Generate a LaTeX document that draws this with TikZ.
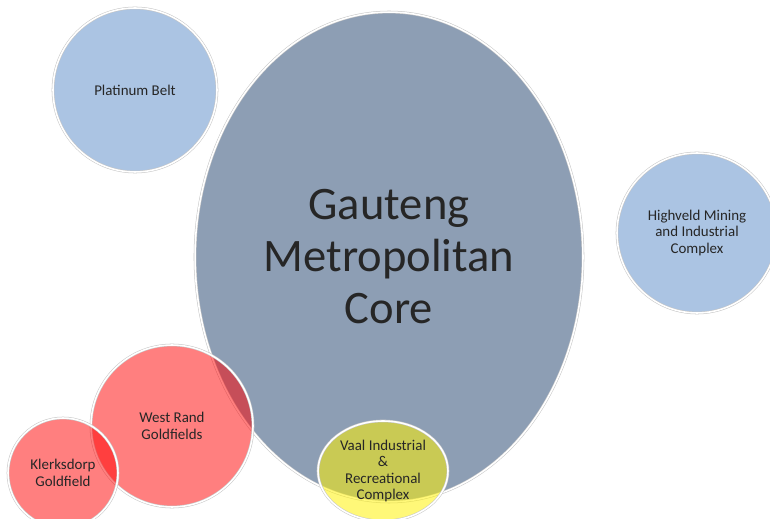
\documentclass[tikz,border=0pt]{standalone}
\usepackage{fontspec}
\setmainfont{Carlito}
\usetikzlibrary{shapes.geometric}
\definecolor{coregrey}{HTML}{8D9EB4}
\definecolor{zoneblue}{HTML}{ABC4E3}
\begin{document}
\begin{tikzpicture}[x=0.02cm, y=-0.02cm,
  every node/.style={ellipse,inner sep=0pt,align=center,text=black!85},
  rim/.style={draw=gray!45,line width=.3pt,double=white,double distance=.9pt},
  small/.style={font=\fontsize{8.5}{9.4}\selectfont},
  blue zone/.style={rim,small,fill=zoneblue},
  gold zone/.style={rim,small,fill=red,fill opacity=.5,text opacity=1},
  vaal zone/.style={rim,small,fill=yellow,fill opacity=.53,text opacity=1}]
  \useasboundingbox (0,0) rectangle (770,519);
  \clip (0,0) rectangle (770,519);
  \node [rim,fill=coregrey,minimum width=7.76cm,minimum height=9.8cm,
    font=\fontsize{26.5}{29.6}\selectfont] (1) at (389,257) {Gauteng\\Metropolitan\\Core};
  \node [blue zone,minimum width=3.28cm,minimum height=3.28cm] (2) at (135,90) {Platinum Belt};
  \node [blue zone,minimum width=3.2cm,minimum height=3.2cm] (3) at (697,233) {Highveld Mining\\and Industrial\\Complex};
  \node [gold zone,minimum width=3.24cm,minimum height=3.24cm] (4) at (172,426) {West Rand\\Goldfields};
  \node [gold zone,minimum width=2.2cm,minimum height=2.2cm] (5) at (63,473) {Klerksdorp\\Goldfield};
  \node [vaal zone,minimum width=2.6cm,minimum height=2cm] (6) at (383,471) {Vaal Industrial\\\&\\Recreational\\Complex};
\end{tikzpicture}
\end{document}
